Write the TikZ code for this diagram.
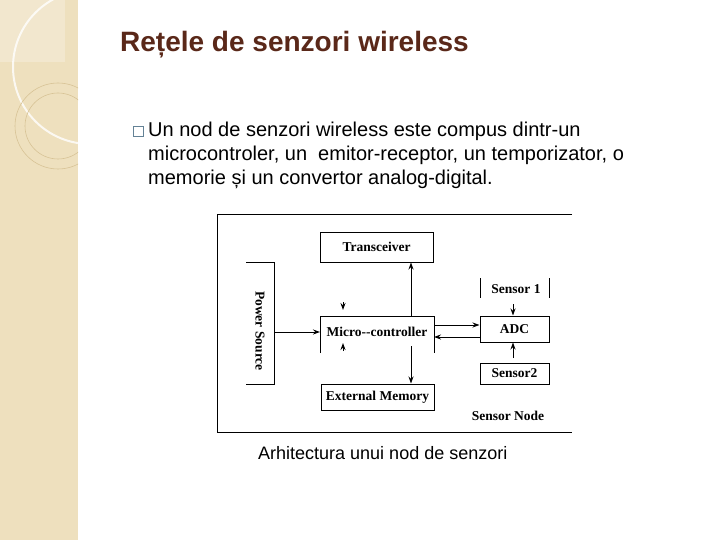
\documentclass[tikz,border=0pt]{standalone}
\usepackage{fontspec}
\setmainfont{Liberation Sans}
\newfontfamily\tms{Liberation Serif}
\usetikzlibrary{arrows.meta}
\definecolor{beige}{RGB}{238,224,190}
\definecolor{ring}{RGB}{215,195,150}
\definecolor{titlec}{RGB}{90,40,25}
\definecolor{bulc}{RGB}{100,130,150}
\begin{document}
\begin{tikzpicture}[x=1pt,y=-1pt,
  ln/.style={line width=1pt,black},
  arr/.style={ln,-{Stealth[length=7pt,width=5pt]}},
  lab/.style={font=\tms\bfseries\fontsize{13.5}{15}\selectfont,inner sep=0pt},
  body/.style={anchor=west,inner sep=0pt,font=\fontsize{20}{24}\selectfont}]
\useasboundingbox (0,0) rectangle (720,540);
\fill[white] (0,0) rectangle (720,540);
\fill[beige] (0,0) rectangle (78,540);
\begin{scope}
\clip (0,0) rectangle (78,540);
\fill[white,opacity=0.25] (0,0) rectangle (65,62);
\draw[white,line width=2pt,opacity=0.8] (90,67) circle (77);
\draw[ring,line width=0.6pt] (58,126) circle (43);
\draw[ring,line width=0.6pt] (58,126) circle (33);
\end{scope}
\node[anchor=west,inner sep=0pt,font=\bfseries\fontsize{28}{32}\selectfont,text=titlec] (title) at (120,45) {Rețele de senzori wireless};
\node[draw=bulc,minimum size=10pt,inner sep=0pt] (bul) at (138,131) {};
\node[body] (l1) at (148,131) {Un nod de senzori wireless este compus dintr-un};
\node[body] (l2) at (148,155) {microcontroler, un\ \ emitor-receptor, un temporizator, o};
\node[body] (l3) at (148,179) {memorie și un convertor analog-digital.};
% frame
\draw[ln] (572,215) -- (217,215) -- (217,432) -- (572,432);
% boxes
\node[draw,ln,minimum width=113pt,minimum height=30pt,lab] (tr) at (376.5,247) {Transceiver};
\node[lab] (mc) at (377,332) {Micro--controller};
\draw[ln] (320,353) -- (320,316) -- (434,316) -- (434,353);
\coordinate (mcL) at (320,332);
\coordinate (mcT) at (411,316);
\coordinate (mcB) at (411,346);
\node[draw,ln,minimum width=113pt,minimum height=26pt,lab] (em) at (377.5,397) {External Memory};
\draw[ln] (246,262) -- (274,262) -- (274,384) -- (246,384);
\node[lab,rotate=-90] (ps) at (260,331) {Power Source};
\coordinate (psR) at (274,332);
\node[lab] (s1) at (516,289) {Sensor 1};
\draw[ln] (480,278) -- (480,298) (549,278) -- (549,298);
\node[draw,ln,minimum width=69pt,minimum height=26pt,lab] (adc) at (514.5,329) {ADC};
\node[draw,ln,minimum width=69pt,minimum height=21pt,lab] (s2) at (514.5,373.5) {Sensor2};
\node[lab] (sn) at (508,416) {Sensor Node};
% arrows
\draw[arr] (psR) -- (mcL);
\draw[arr] (mcT) -- (tr.south -| mcT);
\draw[arr] (mcB) -- (em.north -| mcB);
\draw[arr] (434,325) -- (adc.west |- 0,325);
\draw[arr] (adc.west |- 0,337) -- (434,337);
\coordinate (d1) at (343,302);
\coordinate (d2) at (343,310);
\draw[arr] (d1) -- (d2);
\coordinate (u1) at (343,351);
\coordinate (u2) at (343,343);
\draw[arr] (u1) -- (u2);
\coordinate (e1) at (513,304);
\draw[arr] (e1) -- (adc.north -| e1);
\coordinate (e2) at (513,358);
\draw[arr] (e2) -- (adc.south -| e2);
\node[anchor=west,inner sep=0pt,font=\fontsize{18}{21}\selectfont] (cap) at (258,453) {Arhitectura unui nod de senzori};
\end{tikzpicture}
\end{document}
